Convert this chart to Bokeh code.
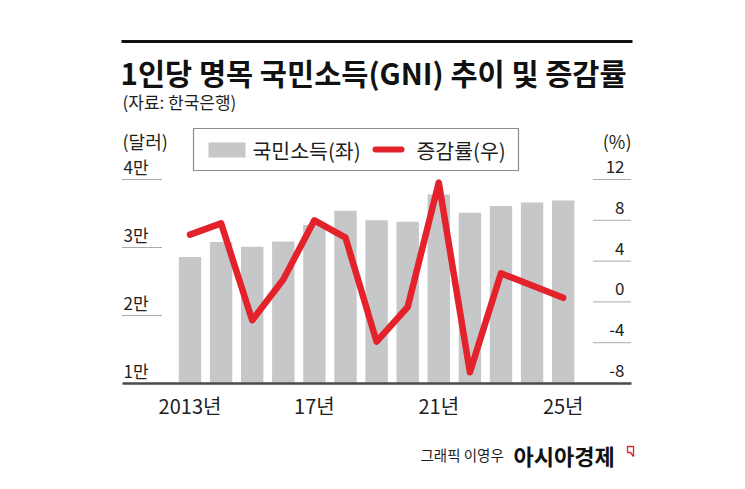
from bokeh.plotting import figure
from bokeh.models import Range1d
from bokeh.core.properties import value
from bokeh.embed import file_html
from bokeh.resources import INLINE

# Per-capita nominal GNI (USD) and its year-on-year change (%)
years = [2013, 2014, 2015, 2016, 2017, 2018, 2019, 2020, 2021, 2022, 2023, 2024, 2025]
gni_usd = [28600, 30800, 30100, 30900, 33300, 35400, 34000, 33800, 37800, 35100, 36100, 36600, 36900]
growth_pct = [6.6, 7.7, -1.8, 2.2, 8.0, 6.3, -3.9, -0.5, 11.7, -6.9, 2.8, 1.6, 0.4]

usd_ticks = [10000, 20000, 30000, 40000]
usd_tick_labels = ["1만", "2만", "3만", "4만"]
pct_ticks = [-8, -4, 0, 4, 8, 12]
pct_tick_labels = ["-8", "-4", "0", "4", "8", "12"]
year_ticks = [2013, 2017, 2021, 2025]
year_tick_labels = ["2013년", "17년", "21년", "25년"]

title_text = "1인당 명목 국민소득(GNI) 추이 및 증감률"
source_text = "(자료: 한국은행)"
legend_bar_text = "국민소득(좌)"
legend_line_text = "증감률(우)"

FONT = value("Noto Sans CJK KR")
INK = "#1e1e1e"
BAR = "#c6c7c9"
RED = "#e3222b"

W, H = 745, 489
p = figure(width=W, height=H,
           x_range=Range1d(2006.907, 2030.862),
           y_range=Range1d(-5588, 66324),
           output_backend="svg", toolbar_location=None,
           x_axis_location=None, y_axis_location=None,
           min_border=0, outline_line_color=None,
           background_fill_color="white", border_fill_color="white")
p.grid.grid_line_color = None

# "px" ranges give a top-down layout space for the decorations; "pct" is the right-hand scale
p.extra_x_ranges = {"px": Range1d(0, W)}
p.extra_y_ranges = {"px": Range1d(H, 0), "pct": Range1d(-18.392, 29.549)}


def label(x, y, text, size, align="left", bold=False, color=INK, **kw):
    p.text(x=x, y=y, text=text, text_font=FONT, text_font_size=f"{size}px",
           text_align=align, text_baseline="middle", text_color=color,
           text_font_style="bold" if bold else "normal", **kw)


# header
p.segment(x0=[121], x1=[632], y0=[41], y1=[41], line_color="#111111", line_width=3,
          x_range_name="px", y_range_name="px")
label([120], [71], [title_text], 29.5, bold=True, color="#111111",
      x_range_name="px", y_range_name="px")
label([122], [101], [source_text], 17, x_range_name="px", y_range_name="px")

# bars (left scale)
p.vbar(x=years, top=gni_usd, bottom=usd_ticks[0], width=0.72,
       fill_color=BAR, line_color=None)

# short dotted tick guides on both sides
p.segment(x0=[122] * 3, x1=[161] * 3, y0=usd_ticks[1:], y1=usd_ticks[1:],
          line_color="#555555", line_width=1, line_dash="1 1", x_range_name="px")
p.segment(x0=[593] * 5, x1=[631] * 5, y0=pct_ticks[1:], y1=pct_ticks[1:],
          line_color="#555555", line_width=1, line_dash="1 1",
          x_range_name="px", y_range_name="pct")

# baseline
p.segment(x0=[122], x1=[631], y0=[usd_ticks[0]], y1=[usd_ticks[0]],
          line_color="#4a4a4a", line_width=2.5, x_range_name="px")

# growth line (right scale)
p.line(years, growth_pct, y_range_name="pct", line_color=RED, line_width=6.5,
       line_join="round", line_cap="round")

# tick labels
label([123] * 4, usd_ticks, usd_tick_labels, 17, y_offset=-13, x_range_name="px")
label([624] * 6, pct_ticks, pct_tick_labels, 17, align="right", y_offset=-13,
      x_range_name="px", y_range_name="pct")
label(year_ticks, [405] * 4, year_tick_labels, 20, align="center", y_range_name="px")

# unit captions
label([122], [140], ["(달러)"], 18, x_range_name="px", y_range_name="px")
label([631], [140], ["(%)"], 18, align="right", x_range_name="px", y_range_name="px")

# legend
p.quad(left=[193], right=[518], top=[128], bottom=[170], fill_color="white",
       line_color="#8a8a8a", line_width=1.2, x_range_name="px", y_range_name="px")
p.quad(left=[208], right=[245], top=[142], bottom=[157], fill_color=BAR,
       line_color=None, x_range_name="px", y_range_name="px")
label([252], [149], [legend_bar_text], 20.5, x_range_name="px", y_range_name="px")
p.segment(x0=[375], x1=[401], y0=[149], y1=[149], line_color=RED, line_width=6,
          line_cap="round", x_range_name="px", y_range_name="px")
label([416], [149], [legend_line_text], 20.5, x_range_name="px", y_range_name="px")

# credit line
label([420], [454], ["그래픽 이영우"], 14.5, x_range_name="px", y_range_name="px")
label([513], [454], ["아시아경제"], 22, bold=True, color="#111111",
      x_range_name="px", y_range_name="px")
p.patch(x=[627, 633, 633, 630, 627], y=[446, 446, 456, 452, 452],
        fill_color=None, line_color=RED, line_width=1.3,
        x_range_name="px", y_range_name="px")

open("out.html", "w").write(file_html(p, INLINE))
